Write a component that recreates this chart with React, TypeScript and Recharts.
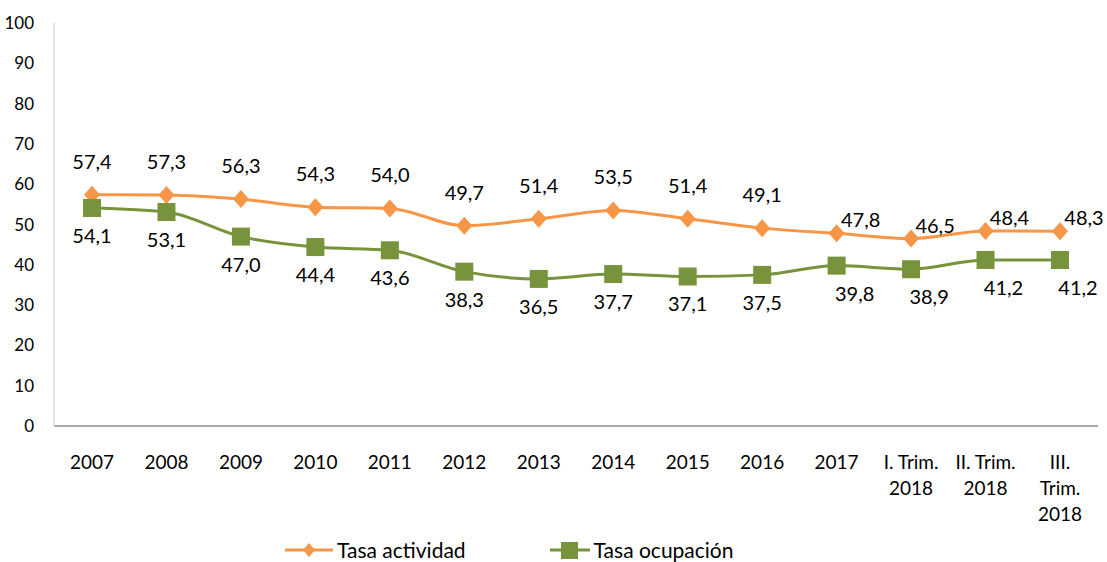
import React from 'react';
import { LineChart, Line, XAxis, YAxis, Legend, LabelList } from 'recharts';

// periods shown on the x axis (\n = line break in the tick)
const periods = [
  '2007', '2008', '2009', '2010', '2011', '2012', '2013', '2014', '2015', '2016', '2017',
  'I. Trim.\n2018', 'II. Trim.\n2018', 'III.\nTrim.\n2018'
];
const tasaActividad = [57.4, 57.3, 56.3, 54.3, 54.0, 49.7, 51.4, 53.5, 51.4, 49.1, 47.8, 46.5, 48.4, 48.3];
const tasaOcupacion = [54.1, 53.1, 47.0, 44.4, 43.6, 38.3, 36.5, 37.7, 37.1, 37.5, 39.8, 38.9, 41.2, 41.2];
const yTicks = [0, 10, 20, 30, 40, 50, 60, 70, 80, 90, 100];

const ORANGE = '#F79646';
const GREEN = '#77933C';
const FONT = 'Lato, "Open Sans", sans-serif';

const data = periods.map((p, i) => ({
  period: p,
  actividad: tasaActividad[i],
  ocupacion: tasaOcupacion[i],
}));

const fmt = (v: number) => v.toFixed(1).replace('.', ',');

const XTick = (props: any) => {
  const { x, y, payload } = props;
  const lines = String(payload.value).split('\n');
  return (
    <text x={x} y={y + 35} textAnchor="middle" fill="#000" fontSize={19} fontFamily={FONT}>
      {lines.map((l, i) => (
        <tspan key={i} x={x} dy={i === 0 ? 0 : 26}>{l}</tspan>
      ))}
    </text>
  );
};

const Diamond = (props: any) => {
  const { cx, cy, index } = props;
  if (cx == null || cy == null) return <g key={index} />;
  return (
    <polygon
      key={index}
      points={`${cx},${cy - 9} ${cx + 8},${cy} ${cx},${cy + 9} ${cx - 8},${cy}`}
      fill={ORANGE}
    />
  );
};

const Square = (props: any) => {
  const { cx, cy, index } = props;
  if (cx == null || cy == null) return <g key={index} />;
  return <rect key={index} x={cx - 9} y={cy - 9} width={18} height={18} fill={GREEN} />;
};

const actLabel = (props: any) => {
  const { x, y, value, index } = props;
  const late = index >= 10;
  return (
    <text
      x={late ? x + 24 : x}
      y={late ? y - 14 : y - 34}
      textAnchor="middle"
      dominantBaseline="central"
      fill="#000"
      fontSize={20}
      fontFamily={FONT}
    >
      {fmt(value)}
    </text>
  );
};

const ocuLabel = (props: any) => {
  const { x, y, value, index } = props;
  const late = index >= 10;
  return (
    <text
      x={late ? x + 18 : x}
      y={y + 27}
      textAnchor="middle"
      dominantBaseline="central"
      fill="#000"
      fontSize={20}
      fontFamily={FONT}
    >
      {fmt(value)}
    </text>
  );
};

const LegendContent = () => (
  <div style={{ display: 'flex', justifyContent: 'flex-start', alignItems: 'flex-end', height: 30, fontFamily: FONT, fontSize: 21, color: '#000', paddingLeft: 285 }}>
    <div style={{ display: 'flex', alignItems: 'center', marginRight: 84 }}>
      <svg width={50} height={20}>
        <line x1={0} y1={10} x2={48} y2={10} stroke={ORANGE} strokeWidth={3} />
        <polygon points="24,3 30,10 24,17 18,10" fill={ORANGE} />
      </svg>
      <span style={{ marginLeft: 2 }}>Tasa actividad</span>
    </div>
    <div style={{ display: 'flex', alignItems: 'center' }}>
      <svg width={42} height={20}>
        <line x1={0} y1={10} x2={40} y2={10} stroke={GREEN} strokeWidth={3} />
        <rect x={11} y={2} width={17} height={17} fill={GREEN} />
      </svg>
      <span style={{ marginLeft: 2 }}>Tasa ocupación</span>
    </div>
  </div>
);

export default function App() {
  return (
    <div style={{ position: 'absolute', left: 0, top: 0, background: '#fff' }}>
      <LineChart
        width={1107}
        height={562}
        data={data}
        margin={{ top: 23, right: 9, left: 0, bottom: 0 }}
      >
        <XAxis
          dataKey="period"
          interval={0}
          height={106}
          padding={{ left: 38, right: 38 }}
          tickLine={false}
          axisLine={{ stroke: '#8c8c8c', strokeWidth: 1.5 }}
          tick={<XTick />}
        />
        <YAxis
          domain={[0, 100]}
          ticks={yTicks}
          width={54}
          tickLine={false}
          axisLine={{ stroke: '#d9d9d9', strokeWidth: 1.5 }}
          tick={{ fill: '#000', fontSize: 17, fontFamily: FONT }}
          tickMargin={14}
        />
        <Legend verticalAlign="bottom" content={<LegendContent />} wrapperStyle={{ height: 30 }} />
        <Line
          type="monotone"
          dataKey="actividad"
          name="Tasa actividad"
          stroke={ORANGE}
          strokeWidth={3}
          dot={<Diamond />}
          activeDot={false}
          isAnimationActive={false}
        >
          <LabelList dataKey="actividad" content={actLabel} />
        </Line>
        <Line
          type="monotone"
          dataKey="ocupacion"
          name="Tasa ocupación"
          stroke={GREEN}
          strokeWidth={3}
          dot={<Square />}
          activeDot={false}
          isAnimationActive={false}
        >
          <LabelList dataKey="ocupacion" content={ocuLabel} />
        </Line>
      </LineChart>
    </div>
  );
}
